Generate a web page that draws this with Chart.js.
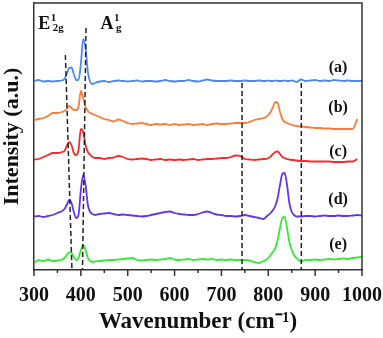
<!DOCTYPE html>
<html><head><meta charset="utf-8">
<script src="https://cdn.jsdelivr.net/npm/chart.js@4.4.1/dist/chart.umd.min.js"></script>
<style>html,body{margin:0;padding:0;background:#fff;}canvas{display:block;}</style>
</head><body>
<canvas id="c" width="383" height="338"></canvas>
<script>
// Raman shift grid (cm-1)
const wavenumbers = [300,310,320,330,340,350,360,
  365,370,375,380,385,390,395,400,405,410,415,420,425,430,
  440,450,460,470,480,490,500,510,520,530,540,550,560,570,580,590,600,610,620,630,640,650,660,670,680,690,700,710,720,730,740,750,760,770,780,
  790,795,800,805,810,815,820,825,830,835,840,845,850,855,860,
  870,880,890,900,910,920,930,940,950,960,970,980,990,1000];

// Offset intensities (a.u.)
const seriesA = [189,190,188.5,189,188.5,189,189.5,
  191,196,202,202.5,196,190,190,206,231,222,198,188,186,187,
  188.5,189,188,189,189.5,189,188.5,189,189.5,188.5,189,189,188.5,189,190,189,188.5,189,189,190,189,188.5,189.5,190.5,189.5,189,189,189,189.5,189,189,189.5,189,189,189.5,
  189,189,189.5,189,189,189.5,189,189,189,189.5,189,189,189.5,189,188,
  190.5,189,189.5,190,189,189.5,189,190,189.5,189,189.5,189,189,189];
const seriesB = [150,151,152,154,157,157,158,
  159,161,164,162,160,160,163,179,172,163,159,157,156,155,
  153,151,150,148.5,150.5,149,147,146,146.5,147,146,145,146,145.5,146,145,146,145,145.5,146,145,145.5,146,145,146,146.5,146,146,146.5,147,147,147,148,150,151,
  152,153,155,158,163,168,167,158,151,148,147,146,145,144.5,144,
  143.5,143,142.5,142,142,141.5,141.5,141,141,141,141,141,151,null];
const seriesC = [110.5,111,113,115,117,117,118,
  119,124,128,125,117,115,120,141,138,125,118,115,113,112,
  112,111,112,112.5,114,113,111,110.5,111,111.5,111,110,110.5,111,110,110.5,110,110.5,110,110.5,111,110,110.5,111,111,111.5,112,112,113,114.5,114,111,110.5,110,110.5,
  111,111,112,113.5,116,118,118.5,116,113,112,111,110.5,110,110,109.5,
  109,109,108.5,108.5,108.5,108.5,108.5,108,108,108,108.5,108.5,111,null];
const seriesD = [53.5,54,53,54,55,57,59,
  61,65,70,67,58,52,55,80,95,85,65,58,56,55,
  56,56.5,57,56,55,55.5,55,54.5,54,53.5,54,55,56,57,58,58.5,57,56,55.5,55,55,56,57.5,58.5,57,55.5,55,54,54,53.5,54,55,54,53,52,
  51,53,55,57,60,64,72,85,96,97,85,67,58,55,53.5,
  53.5,54,54,53.5,54,54.5,54,54,54.5,54,54,54.5,55,54.5];
const seriesE = [7,10,9,10.5,9,9.5,10.5,
  12,15,17.5,17,13,10,12,20,25,20,12,9,8,8.5,
  9,9.5,10,10,10.5,11,11.5,12,10,9.5,10,10.5,10,10.5,11,12,10.5,10,10.5,11,10,10.5,11,10.5,11,10,10.5,10,10.5,10,10,10,9.5,8,7,
  9,10,12,15,18,22,30,42,52,53,42,28,20,15,12,
  8.5,10,10,10.5,10,10.5,11,10.5,11,11.5,11,12,12.5,13];

const seriesNames = ['(a)','(b)','(c)','(d)','(e)'];
const seriesColors = ['#4a8af0','#ff7a36','#ff2626','#6633ee','#35ea35'];
const seriesLabelY = [202,162,118,70,25];
const seriesLabelX = 949;

// Dashed guide lines (wavenumber at top / bottom, intensity at top)
const guideTopX = [367,411,744,870.5];
const guideBottomX = [381,403.5,744,870.5];
const guideTopY = [215,242,187,187];

const xTicks = [300,400,500,600,700,800,900,1000];

const allSeries = [seriesA,seriesB,seriesC,seriesD,seriesE];
const FONT = "'Liberation Serif','Times New Roman',serif";

const datasets = [];
guideTopX.forEach((tx,i)=>{
  datasets.push({label:'guide'+i, data:[{x:tx,y:guideTopY[i]},{x:guideBottomX[i],y:0}],
    borderColor:'#222', borderWidth:1.5, borderDash:[5,3], pointRadius:0, tension:0});
});
allSeries.forEach((s,i)=>{
  datasets.push({label:seriesNames[i], data:wavenumbers.map((w,j)=>({x:w,y:s[j]})),
    borderColor:seriesColors[i], borderWidth:1.8, pointRadius:0, cubicInterpolationMode:'monotone', spanGaps:false});
});

const decor = {
  id:'decor',
  afterDraw(chart){
    const {ctx, chartArea:a, scales:{x,y}} = chart;
    ctx.save();
    // frame top & right
    ctx.strokeStyle='#333'; ctx.lineWidth=1.5;
    ctx.beginPath(); ctx.moveTo(a.left,a.top); ctx.lineTo(a.right,a.top); ctx.lineTo(a.right,a.bottom); ctx.stroke();
    // major and minor tick marks
    ctx.beginPath();
    x.ticks.forEach(t=>{ const px=x.getPixelForValue(t.value); const len=(t.value%100===0)?6:3; ctx.moveTo(px,a.bottom); ctx.lineTo(px,a.bottom+len); });
    ctx.stroke();
    // series labels
    ctx.fillStyle='#111'; ctx.font='bold 16px '+FONT; ctx.textAlign='center'; ctx.textBaseline='middle';
    seriesNames.forEach((n,i)=>ctx.fillText(n, x.getPixelForValue(seriesLabelX), y.getPixelForValue(seriesLabelY[i])));
    // peak labels
    const peaks=[{m:'E',sup:'1',sub:'2g',x:309},{m:'A',sup:'1',sub:'g',x:442}];
    ctx.textAlign='left'; ctx.textBaseline='alphabetic';
    peaks.forEach(p=>{
      const px=x.getPixelForValue(p.x), py=y.getPixelForValue(241.5);
      ctx.font='bold 18px '+FONT; ctx.fillText(p.m,px,py);
      const w=ctx.measureText(p.m).width;
      ctx.font='bold 11px '+FONT;
      ctx.fillText(p.sup,px+w+0.5,py-7.5);
      ctx.fillText(p.sub,px+w+2.5,py+2.5);
    });
    ctx.restore();
  }
};

new Chart(document.getElementById('c'),{
  type:'line',
  data:{datasets},
  plugins:[decor],
  options:{
    responsive:false, animation:false, devicePixelRatio:1,
    layout:{padding:{top:3,right:21,left:0,bottom:0}},
    plugins:{legend:{display:false},tooltip:{enabled:false}},
    scales:{
      x:{type:'linear',min:300,max:1000,
        ticks:{stepSize:50,autoSkip:false,maxRotation:0,color:'#111',padding:0,
          font:{family:FONT,size:20,weight:'bold'},
          callback:v=> xTicks.includes(v)? String(v):''},
        grid:{drawOnChartArea:false,tickLength:14,tickColor:'rgba(0,0,0,0)'},
        border:{color:'#333',width:1.5},
        title:{display:true,text:'Wavenumber (cm⁻¹)',color:'#111',
          font:{family:FONT,size:23,weight:'bold'},padding:{top:0,bottom:2}},
        afterFit:s=>{s.height=68;}
      },
      y:{min:0,max:267,
        ticks:{display:false},grid:{display:false},
        border:{color:'#333',width:1.5},
        title:{display:true,text:'Intensity (a.u.)',color:'#111',
          font:{family:FONT,size:22,weight:'bold'},padding:{top:-1,bottom:0}},
        afterFit:s=>{s.width=34;}
      }
    }
  }
});
</script>
</body></html>
